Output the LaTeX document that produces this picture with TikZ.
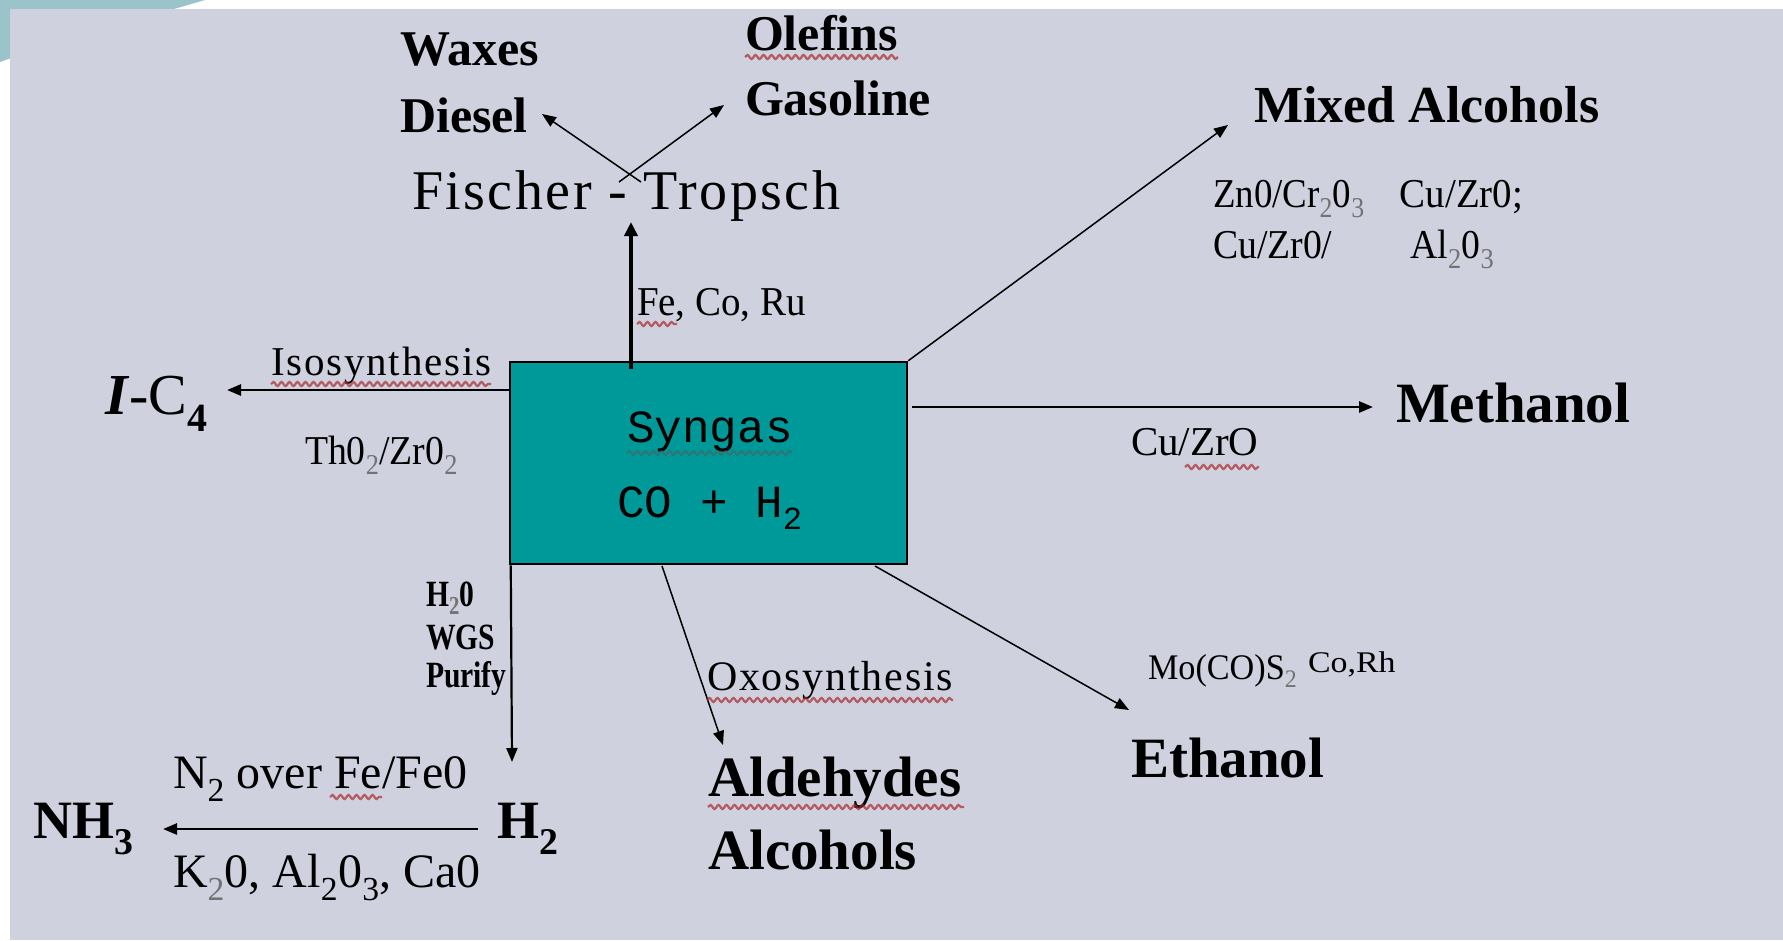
\documentclass[tikz,border=0pt]{standalone}
\usepackage{fontspec}
\usepackage{graphicx}
\setmainfont{Liberation Serif}
\newfontfamily\monofont{Liberation Mono}
\usetikzlibrary{arrows.meta,decorations.pathmorphing}
\definecolor{bggray}{RGB}{207,209,222}
\definecolor{cornerteal}{RGB}{155,196,202}
\definecolor{boxteal}{RGB}{0,153,153}
\definecolor{squigred}{RGB}{170,40,45}
\newcommand{\fs}[1]{\fontsize{#1}{#1}\selectfont}
\newcommand{\sub}[1]{\textsubscript{#1}}
\newcommand{\gsub}[1]{\textsubscript{\color{black!55}#1}}
\begin{document}
\begin{tikzpicture}[x=1pt,y=-1pt,
  lbl/.style={inner sep=0pt,outer sep=0pt,anchor=base west},
  big/.style={lbl,font=\fs{57}\bfseries},
  mid/.style={lbl,font=\fs{50}\bfseries},
  small/.style={lbl,font=\fs{41}},
  arr/.style={-{Triangle[length=14pt,width=11pt]},line width=1.8pt},
  arrthick/.style={-{Triangle[length=14pt,width=12pt]},line width=3pt},
  squig/.style={decorate,decoration={snake,segment length=8pt,amplitude=2pt},draw=squigred,line width=2.2pt,opacity=0.7},
  synbox/.style={draw=black,line width=2.5pt,fill=boxteal,minimum width=397pt,minimum height=202pt,inner sep=0pt}]
\useasboundingbox (0,0) rectangle (1783,940);
% background
\fill[white] (0,0) rectangle (1783,940);
\fill[cornerteal] (0,0) -- (205,0) .. controls (130,22) and (55,42) .. (0,62) -- cycle;
\fill[bggray] (10,9) rectangle (1783,940);

% central box
\node[synbox] (box) at (708.5,463) {};
\node[lbl,anchor=base,font=\monofont\fs{46}] (syn) at (710,442) {Syngas};
\node[lbl,anchor=base,font=\monofont\fs{46}] (coh) at (710,517) {CO + H\sub{2}};
\draw[squig,draw=black!65,opacity=0.5] (627,453) -- (792,453);

% Fischer-Tropsch
\node[lbl,font=\fs{56}\addfontfeature{LetterSpace=4.5}] (ft) at (412,209) {Fischer - Tropsch};
\coordinate (fttip) at (631,222);
\coordinate (ftbase) at (631,369);
\draw[arrthick,line width=4.5pt,-{Triangle[length=14pt,width=13pt]}] (ftbase) -- (fttip);
\node[small] (fecoru) at (637,315) {\scalebox{0.95}[1]{Fe, Co, Ru}};
\draw[squig] (637,324) -- (677,324);

\node[mid] (waxes) at (400,65) {Waxes};
\node[mid] (diesel) at (400,132) {Diesel};
\node[mid] (olefins) at (745,50) {Olefins};
\node[mid] (gasoline) at (745,115) {Gasoline};
\draw[squig] (745,57) -- (898,57);
\coordinate (dstart) at (641,182);
\coordinate (dtip) at (542,114);
\coordinate (gstart) at (619,182);
\coordinate (gtip) at (724,105);
\draw[arr,line width=1.5pt] (dstart) -- (dtip);
\draw[arr,line width=1.5pt] (gstart) -- (gtip);

% Mixed alcohols
\node[lbl,font=\fs{52}\bfseries] (mixed) at (1254,122) {Mixed Alcohols};
\coordinate (mtip) at (1228,125);
\draw[arr,line width=1.5pt] (box.north east) -- (mtip);
\node[small] (zn1) at (1213,207) {\scalebox{0.9}[1]{Zn0/Cr\gsub{2}0\gsub{3}}\hspace{35pt}\scalebox{0.95}[1]{Cu/Zr0;}};
\node[small] (zn2) at (1213,258) {\scalebox{0.92}[1]{Cu/Zr0/}\hspace{78pt}\scalebox{0.92}[1]{Al\gsub{2}0\gsub{3}}};

% Methanol
\node[big] (methanol) at (1396,422) {Methanol};
\coordinate (metip) at (1373,407);
\draw[arr,line width=2.6pt] (box.east |- metip) ++(4,0) -- (metip);
\node[small] (cuzro) at (1131,455) {Cu/ZrO};
\draw[squig] (1185,467) -- (1259,467);

% Isosynthesis
\node[lbl,font=\fs{58}] (ic4) at (105,414) {\textbf{\textit{I}}-C\raisebox{-0.3em}{\fs{40}\bfseries 4}};
\coordinate (itip) at (227,390);
\draw[arr,line width=2.6pt] (box.west |- itip) -- (itip);
\node[lbl,font=\fs{41}\addfontfeature{LetterSpace=4.4}] (iso) at (271,375) {Isosynthesis};
\draw[squig] (271,384) -- (491,384);
\node[small] (thzr) at (305,464) {\scalebox{0.92}[1]{Th0\gsub{2}/Zr0\gsub{2}}};

% H2 / NH3
\coordinate (htip) at (512,762);
\draw[arr,line width=2.2pt] (box.south west) ++(2,0) -- (htip);
\node[lbl,font=\fs{37}\bfseries] (h2o) at (426,606) {\scalebox{0.8}[1]{H\gsub{2}0}};
\node[lbl,font=\fs{37}\bfseries] (wgs) at (426,649) {\scalebox{0.8}[1]{WGS}};
\node[lbl,font=\fs{37}\bfseries] (purify) at (426,687) {\scalebox{0.8}[1]{Purify}};
\node[lbl,font=\fs{54}\bfseries] (h2) at (497,838) {H\sub{2}};
\node[lbl,font=\fs{54}\bfseries] (nh3) at (34,838) {NH\sub{3}};
\coordinate (ntip) at (163,829);
\coordinate (nstart) at (478,829);
\draw[arr,line width=2.6pt] (nstart) -- (ntip);
\node[lbl,font=\fs{48}] (n2) at (173,788) {N\sub{2} over Fe/Fe0};
\draw[squig] (330,797) -- (382,797);
\node[lbl,font=\fs{48}] (k2o) at (173,887) {K\gsub{2}0, Al\sub{2}0\sub{3}, Ca0};

% Oxosynthesis
\coordinate (ostart) at (662,566);
\coordinate (otip) at (723,745);
\draw[arr,line width=1.5pt] (ostart) -- (otip);
\node[lbl,font=\fs{42}\addfontfeature{LetterSpace=4.3}] (oxo) at (707,690) {Oxosynthesis};
\draw[squig] (707,700) -- (953,700);
\node[big] (ald) at (708,796) {Aldehydes};
\draw[squig] (708,807) -- (964,807);
\node[big] (alc) at (708,869) {Alcohols};

% Ethanol
\coordinate (estart) at (875,566);
\coordinate (etip) at (1129,710);
\draw[arr,line width=1.5pt] (estart) -- (etip);
\node[lbl,font=\fs{36}] (mocos) at (1148,679) {\scalebox{0.95}[1]{Mo(CO)S\gsub{2}}};
\node[lbl,font=\fs{30}] (corh) at (1308,672) {\scalebox{1.13}[1]{Co,Rh}};
\node[big] (ethanol) at (1131,777) {Ethanol};
\end{tikzpicture}
\end{document}
